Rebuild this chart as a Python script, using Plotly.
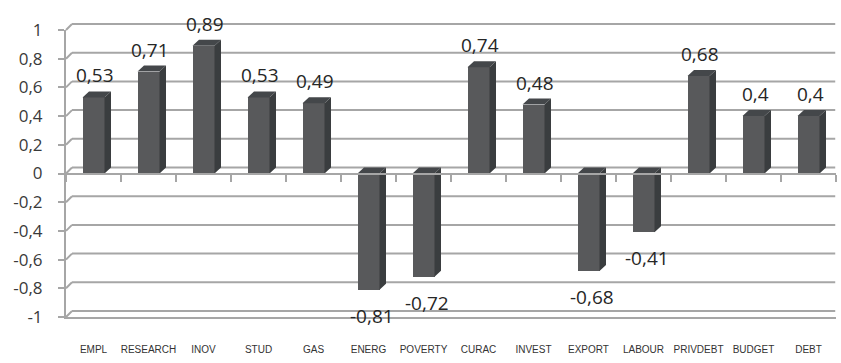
import plotly.graph_objects as go

categories = ["EMPL", "RESEARCH", "INOV", "STUD", "GAS", "ENERG", "POVERTY",
              "CURAC", "INVEST", "EXPORT", "LABOUR", "PRIVDEBT", "BUDGET", "DEBT"]
values = [0.53, 0.71, 0.89, 0.53, 0.49, -0.81, -0.72, 0.74, 0.48, -0.68, -0.41, 0.68, 0.4, 0.4]
ytick_vals = [1, 0.8, 0.6, 0.4, 0.2, 0, -0.2, -0.4, -0.6, -0.8, -1]
ytick_text = ["1", "0,8", "0,6", "0,4", "0,2", "0", "-0,2", "-0,4", "-0,6", "-0,8", "-1"]

W, H = 841, 363
ML, MR, MT, MB = 66, 5, 30, 46
PW, PH = W - ML - MR, H - MT - MB
n = len(categories)
xs = list(range(n))
ppx = PW / n            # px per category
ppy = PH / 2.0          # px per y unit
bw = 0.4
ddx = 6.5 / ppx
ddy = 6.0 / ppy

FRONT = "#58595b"
SIDE = "#3a3d3f"
TOP = "#44474a"
GRID = "#a6a6a6"

fig = go.Figure()

# front faces
fig.add_trace(go.Bar(x=xs, y=values, width=bw, marker=dict(color=FRONT, line=dict(width=0)),
                     showlegend=False, hoverinfo="skip"))

# side faces and top faces built from the values
sx, sy, tx, ty = [], [], [], []
for i, v in zip(xs, values):
    r = i + bw / 2
    sx += [r, r, r + ddx, r + ddx, r, None]
    sy += [0, v, v + ddy, ddy, 0, None]
    t = max(v, 0)
    l = i - bw / 2
    tx += [l, l + ddx, r + ddx, r, l, None]
    ty += [t, t + ddy, t + ddy, t, t, None]
fig.add_trace(go.Scatter(x=sx, y=sy, mode="lines", fill="toself", fillcolor=SIDE,
                         line=dict(width=0, color=SIDE), showlegend=False, hoverinfo="skip"))
fig.add_trace(go.Scatter(x=tx, y=ty, mode="lines", fill="toself", fillcolor=TOP,
                         line=dict(width=0, color=TOP), showlegend=False, hoverinfo="skip"))

# invisible trace for floor axis
fig.add_trace(go.Scatter(x=[0], y=[0], xaxis="x2", mode="markers", marker=dict(opacity=0),
                         showlegend=False, hoverinfo="skip"))

# data labels as annotations
annotations = []
for i, v in zip(xs, values):
    txt = str(v).replace(".", ",")
    if v >= 0:
        annotations.append(dict(x=i + 0.03, y=v, xref="x", yref="y", text=txt, showarrow=False,
                                yshift=22, xanchor="center", yanchor="middle",
                                font=dict(family="Open Sans, DejaVu Sans, sans-serif", size=19, color="#262626")))
    else:
        annotations.append(dict(x=i + 0.07, y=v, xref="x", yref="y", text=txt, showarrow=False,
                                yshift=-26, xanchor="center", yanchor="middle",
                                font=dict(family="Open Sans, DejaVu Sans, sans-serif", size=19, color="#262626")))

# back-wall gridlines with connectors to the front axis
shapes = []
gx = 6.0 / PW
gy = 6.0 / PH
for v in ytick_vals:
    yp = (v + 1) / 2
    shapes.append(dict(type="line", xref="paper", yref="paper", x0=gx, x1=1.0 - 0.001,
                       y0=yp + gy, y1=yp + gy, line=dict(color=GRID, width=2), layer="below"))
    shapes.append(dict(type="line", xref="paper", yref="paper", x0=0, x1=gx,
                       y0=yp, y1=yp + gy, line=dict(color=GRID, width=2), layer="below"))

fig.update_layout(
    width=W, height=H,
    margin=dict(l=ML, r=MR, t=MT, b=MB),
    paper_bgcolor="white", plot_bgcolor="white",
    bargap=0, shapes=shapes, annotations=annotations,
    xaxis=dict(range=[-0.5, n - 0.5], tickvals=xs, ticktext=categories,
               showgrid=False, zeroline=False, showline=True, linecolor=GRID, linewidth=2,
               ticks="", ticklabelstandoff=22,
               tickfont=dict(family="Liberation Sans, Arial, sans-serif", size=10, color="#333333")),
    xaxis2=dict(range=[-0.5, n - 0.5], overlaying="x", anchor="free", position=0.5,
                showgrid=False, zeroline=False, showline=True, linecolor=GRID, linewidth=2,
                ticks="outside", ticklen=7, tickwidth=2, tickcolor=GRID,
                tickvals=[k - 0.5 for k in range(n + 1)], showticklabels=False),
    yaxis=dict(range=[-1, 1], tickvals=ytick_vals, ticktext=ytick_text,
               showgrid=False, zeroline=False, showline=True, linecolor=GRID, linewidth=2,
               ticks="outside", ticklen=6, tickwidth=2, tickcolor=GRID, ticklabelstandoff=12,
               tickfont=dict(family="Open Sans, DejaVu Sans, sans-serif", size=17, color="#3a3a3a")),
)

fig.write_html("out.html")
